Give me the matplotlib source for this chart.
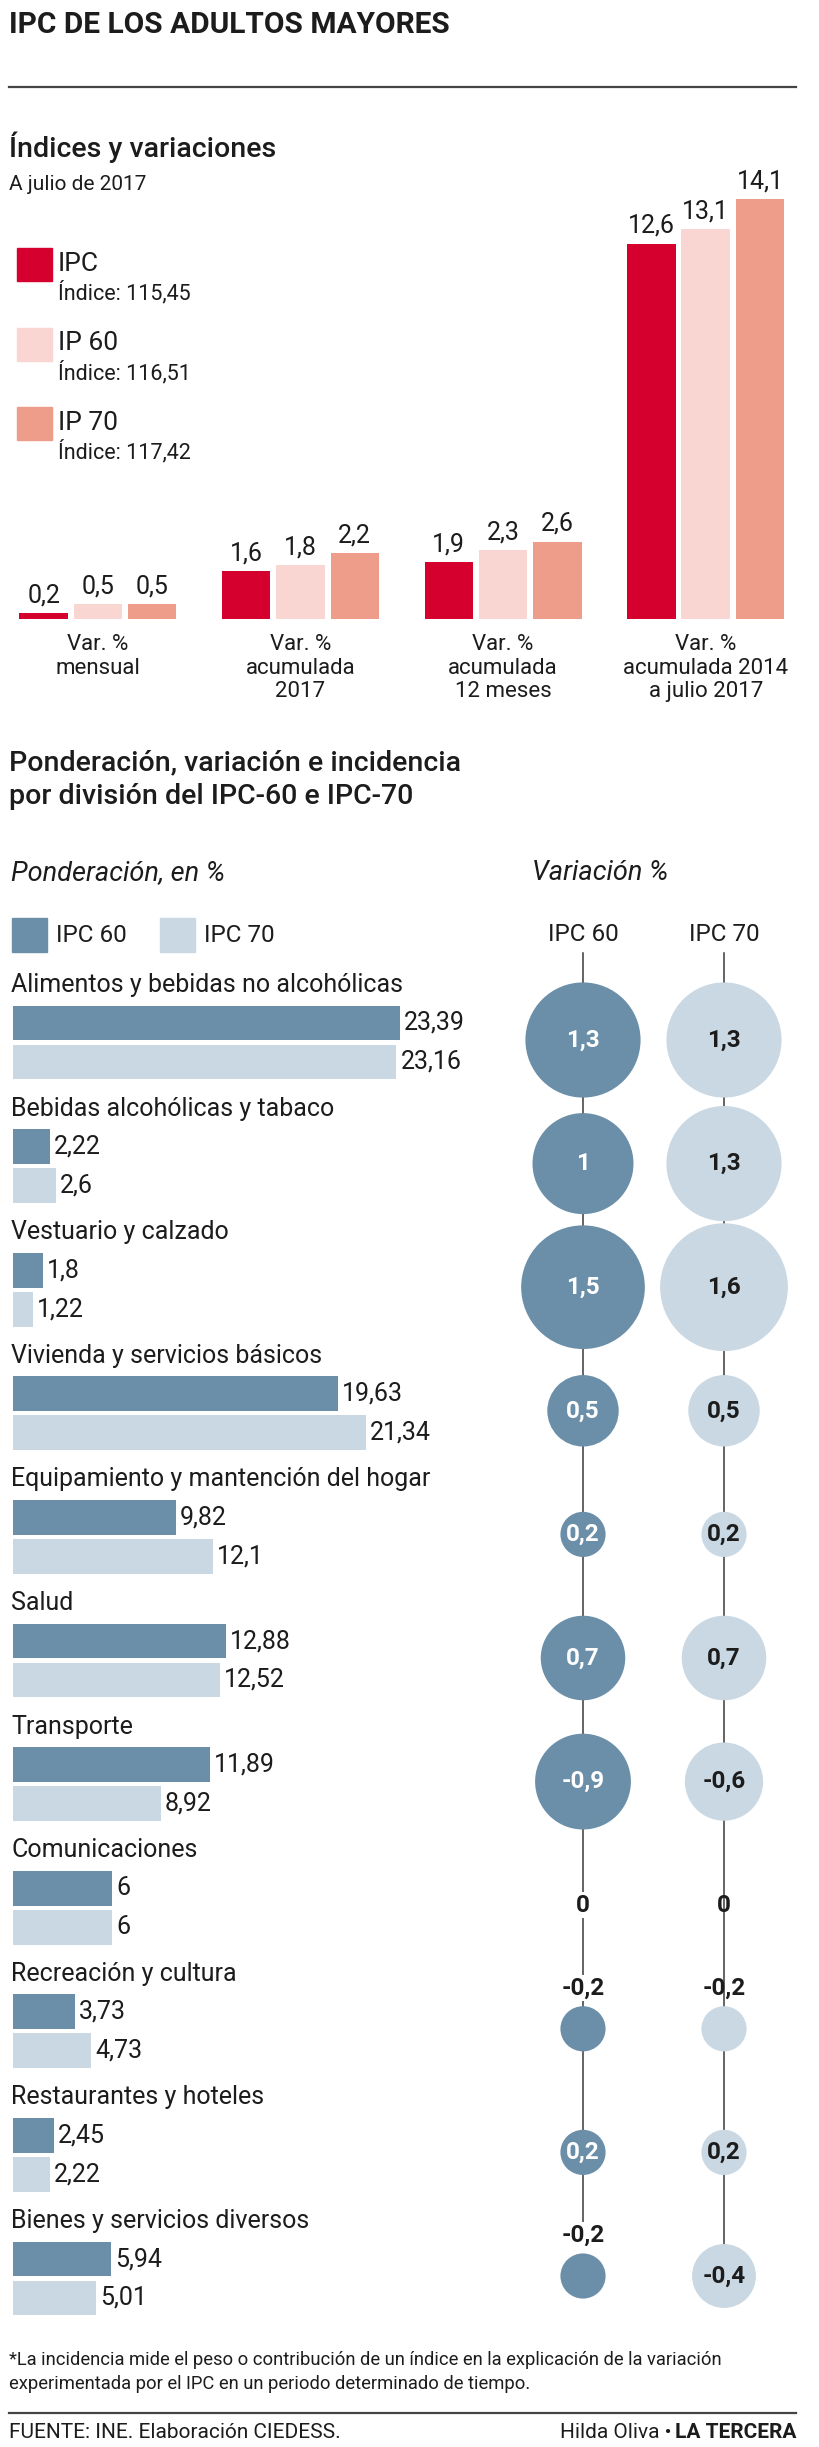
import numpy as np
import matplotlib
matplotlib.use("Agg")
import matplotlib.pyplot as plt
from matplotlib.lines import Line2D
from matplotlib.patches import Rectangle

W, H = 820, 2447

# --- datos: índices y variaciones ---
grupos = ["Var. %\nmensual", "Var. %\nacumulada\n2017",
          "Var. %\nacumulada\n12 meses", "Var. %\nacumulada 2014\na julio 2017"]
ipc = [0.2, 1.6, 1.9, 12.6]
ip60 = [0.5, 1.8, 2.3, 13.1]
ip70 = [0.5, 2.2, 2.6, 14.1]
series_top = ["IPC", "IP 60", "IP 70"]
indices_top = ["115,45", "116,51", "117,42"]

# --- datos: ponderación y variación por división ---
divisiones = ["Alimentos y bebidas no alcohólicas", "Bebidas alcohólicas y tabaco",
              "Vestuario y calzado", "Vivienda y servicios básicos",
              "Equipamiento y mantención del hogar", "Salud", "Transporte",
              "Comunicaciones", "Recreación y cultura", "Restaurantes y hoteles",
              "Bienes y servicios diversos"]
pond60 = [23.39, 2.22, 1.8, 19.63, 9.82, 12.88, 11.89, 6, 3.73, 2.45, 5.94]
pond70 = [23.16, 2.6, 1.22, 21.34, 12.1, 12.52, 8.92, 6, 4.73, 2.22, 5.01]
var60 = [1.3, 1, 1.5, 0.5, 0.2, 0.7, -0.9, 0, -0.2, 0.2, -0.2]
var70 = [1.3, 1.3, 1.6, 0.5, 0.2, 0.7, -0.6, 0, -0.2, 0.2, -0.4]
series_bot = ["IPC 60", "IPC 70"]

RED, PINK, SALMON = "#d6002f", "#f9d6d1", "#ef9d8b"
DARK, LIGHT = "#6b8fa8", "#c9d8e3"
INK = "#1c1c1c"

plt.rcParams['font.family'] = ['Roboto', 'DejaVu Sans']
plt.rcParams['text.color'] = INK

fig = plt.figure(figsize=(W / 100, H / 100), dpi=100)


def px_axes(x0, y0, x1, y1):
    ax = fig.add_axes([x0 / W, 1 - y1 / H, (x1 - x0) / W, (y1 - y0) / H])
    ax.axis('off')
    return ax


def ftext(x, y, s, **kw):
    kw.setdefault('va', 'center')
    return fig.text(x / W, 1 - y / H, s, **kw)


def fline(x0, x1, y, **kw):
    fig.add_artist(Line2D([x0 / W, x1 / W], [1 - y / H] * 2, **kw))


def fsquare(x, y, w, h, color):
    fig.add_artist(Rectangle((x / W, 1 - (y + h) / H), w / W, h / H,
                             color=color, transform=fig.transFigure))


def fmt(v):
    return f"{v:g}".replace('.', ',')


# cabecera
ftext(9, 25, "IPC DE LOS ADULTOS MAYORES", fontsize=21.5, weight='bold')
fline(9, 796, 87, color='#444444', lw=1.6)
ftext(9, 147, "Índices y variaciones", fontsize=20.5, weight='medium')
ftext(9, 185, "A julio de 2017", fontsize=15)

# leyenda superior
for k, (name, idx, col) in enumerate(zip(series_top, indices_top, [RED, PINK, SALMON])):
    top = 248 + k * 79.5
    fsquare(17, top, 35, 33, col)
    ftext(58, top + 16, name, fontsize=19)
    ftext(58, top + 45, f"Índice: {idx}", fontsize=15.5)

# barras verticales
step_px, px_unit = 202.6, 29.8
ax1 = px_axes(0, 100, 820, 619)
ax1.set_xlim(-97.9 / step_px, (820 - 97.9) / step_px)
ax1.set_ylim(0, 519 / px_unit)
xg = np.arange(len(grupos))
off, bw = 54.3 / step_px, 48.5 / step_px
for k, (vals, col) in enumerate(zip([ipc, ip60, ip70], [RED, PINK, SALMON])):
    xs = xg + (k - 1) * off
    ax1.bar(xs, vals, width=bw, color=col)
    for x, v in zip(xs, vals):
        ax1.annotate(fmt(v), xy=(x, v), xytext=(0, 4), textcoords='offset points',
                     ha='center', va='bottom', fontsize=18)
for x, g in zip(xg, grupos):
    ax1.annotate(g, xy=(x, 0), xytext=(0, -11), textcoords='offset points',
                 ha='center', va='top', fontsize=16,
                 linespacing=1.15, annotation_clip=False)

# segunda sección
ftext(9, 763, "Ponderación, variación e incidencia", fontsize=20.5, weight='medium')
ftext(9, 797, "por división del IPC-60 e IPC-70", fontsize=20.5, weight='medium')
ftext(11, 873, "Ponderación, en %", fontsize=19.5, style='italic')
ftext(532, 873, "Variación %", fontsize=19.5, style='italic')
for k, (name, col) in enumerate(zip(series_bot, [DARK, LIGHT])):
    x0 = 12 + k * 148
    fsquare(x0, 918, 35, 34, col)
    ftext(x0 + 44, 935, name, fontsize=17.5)

row_px, y0_px = 123.6, 985
ylim = ((2320 - y0_px) / row_px, (960 - y0_px) / row_px)
yr = np.arange(len(divisiones))

# barras horizontales
bar_unit = 16.55
ax2 = px_axes(0, 960, 500, 2320)
ax2.set_xlim(-13 / bar_unit, (500 - 13) / bar_unit)
ax2.set_ylim(*ylim)
bh = 34.7 / row_px
for vals, col, dy in [(pond60, DARK, 38), (pond70, LIGHT, 77)]:
    ys = yr + dy / row_px
    ax2.barh(ys, vals, height=bh, color=col)
    for y, v in zip(ys, vals):
        ax2.annotate(fmt(v), xy=(v, y), xytext=(3, 0), textcoords='offset points',
                     ha='left', va='center', fontsize=18)
for y, name in zip(yr, divisiones):
    ax2.text(-0.1, y, name, ha='left', va='center', fontsize=18)

# burbujas de variación
col_px = 141
ax3 = px_axes(480, 960, 820, 2320)
ax3.set_xlim((480 - 583) / col_px, (820 - 583) / col_px)
ax3.set_ylim(*ylim)
yb = yr + 55 / row_px
d_unit = 101  # diámetro en px para variación 1
for c, (name, vals, col, tcol) in enumerate(zip(series_bot, [var60, var70],
                                                 [DARK, LIGHT], ['white', INK])):
    ax3.text(c, (935 - y0_px) / row_px, name, ha='center', va='center', fontsize=17.5)
    sizes = (d_unit * 0.72) ** 2 * np.abs(vals)
    ax3.scatter([c] * len(vals), yb, s=sizes, color=col, linewidths=0, zorder=3)
    label_y = []
    for y, v in zip(yb, vals):
        d = d_unit * np.sqrt(abs(v))
        lab = fmt(v)
        if len(lab) * 12 <= d:
            ax3.text(c, y, lab, ha='center', va='center', color=tcol,
                     fontsize=17.5, weight='bold', zorder=4)
            label_y.append(y)
        else:
            dy = (d / 2 + 18) if d > 0 else 0
            bbox = dict(fc='white', ec='none', pad=1) if c == 0 else None
            ax3.annotate(lab, xy=(c, y), xytext=(0, dy * 0.72), textcoords='offset points',
                         ha='center', va='center', fontsize=17.5, weight='bold',
                         bbox=bbox, zorder=4)
            label_y.append(y - dy / row_px)
    ax3.plot([c, c], [(953 - y0_px) / row_px, label_y[-1]], color='#3a3a3a',
             lw=1.1, zorder=1, clip_on=False)

# nota y pie
ftext(9, 2360, "*La incidencia mide el peso o contribución de un índice en la explicación de la variación",
      fontsize=13.2)
ftext(9, 2384, "experimentada por el IPC en un periodo determinado de tiempo.",
      fontsize=13.2)
fline(9, 796, 2413, color='#444444', lw=1.6)
ftext(9, 2432, "FUENTE: INE. Elaboración CIEDESS.", fontsize=15)
brand = ftext(796, 2432, "LA TERCERA", fontsize=15, weight='bold', ha='right')
renderer = fig.canvas.get_renderer()
bw_px = brand.get_window_extent(renderer).width
ftext(796 - bw_px - 3, 2432, "Hilda Oliva •", fontsize=15, ha='right')

fig.savefig("out.png", dpi=100, facecolor='white')
